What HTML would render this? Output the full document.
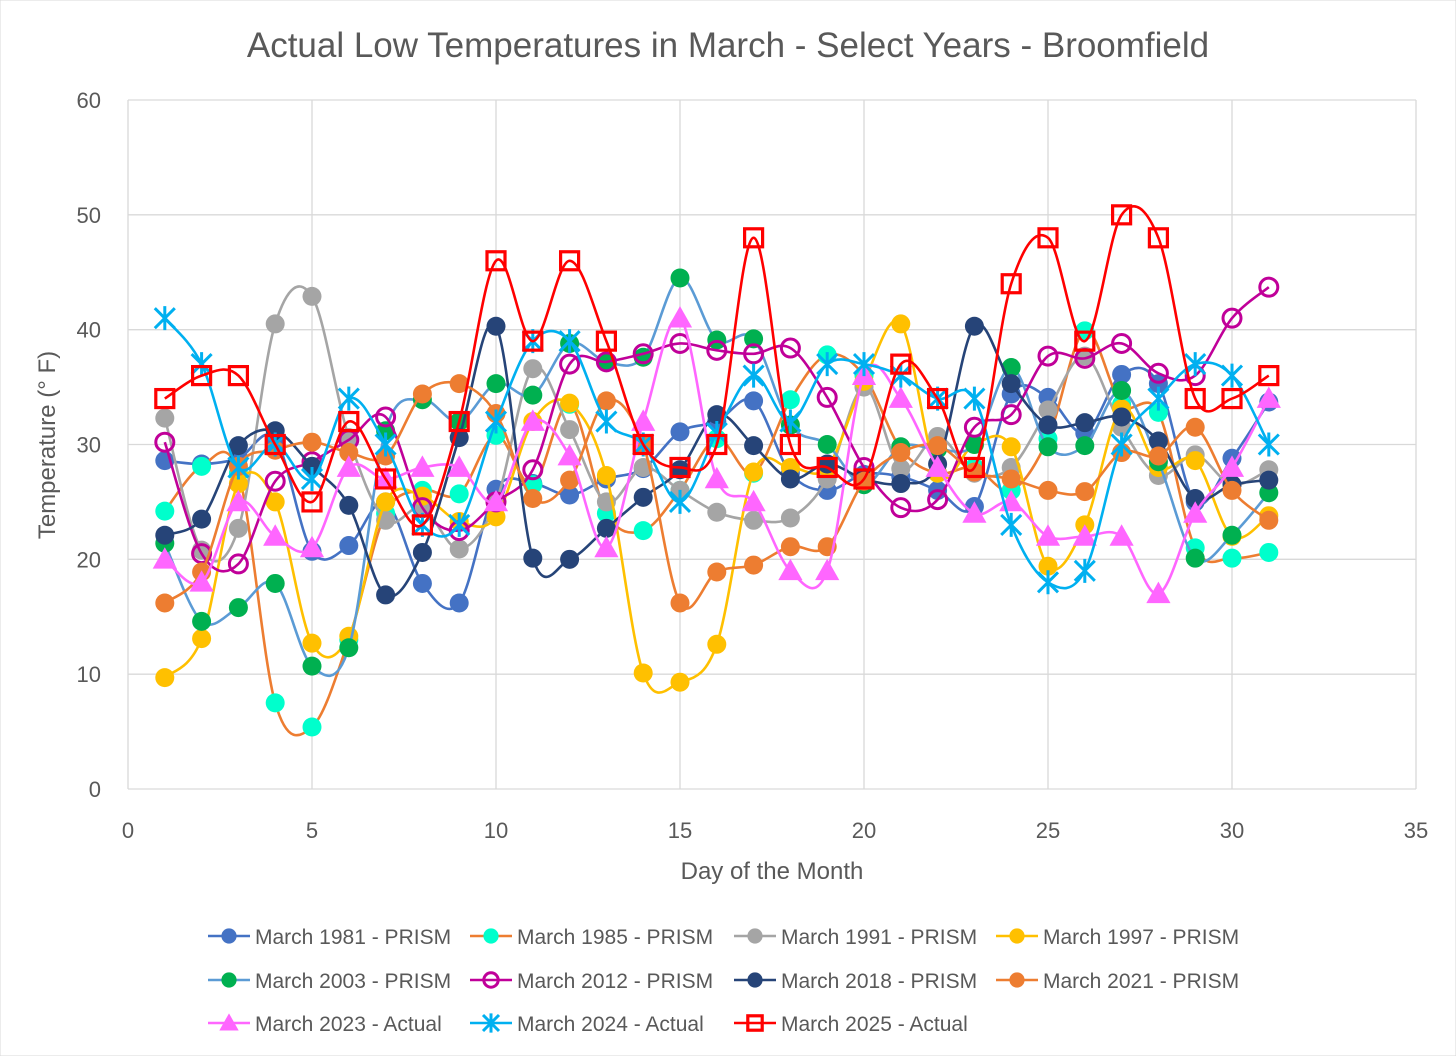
<!DOCTYPE html>
<html><head><meta charset="utf-8">
<style>
html,body{margin:0;padding:0;background:#fff;}
svg{display:block;font-family:"Liberation Sans",Calibri,sans-serif;}
</style></head>
<body>
<svg id="chart" width="1456" height="1056" viewBox="0 0 1456 1056" xmlns="http://www.w3.org/2000/svg">
<rect x="0" y="0" width="1456" height="1056" fill="#fff" stroke="#d9d9d9"/>
<text x="728" y="57" text-anchor="middle" font-size="35" fill="#595959">Actual Low Temperatures in March - Select Years - Broomfield</text>
<g id="grid"></g>
<g id="ticks"></g>
<text x="772" y="879" text-anchor="middle" font-size="24" fill="#595959">Day of the Month</text>
<text transform="translate(55,445) rotate(-90)" text-anchor="middle" font-size="24" fill="#595959">Temperature (° F)</text>
<g id="series"></g>
<g id="legend"></g>
</svg>
<script>
const days = Array.from({length:31},(_,i)=>i+1);
const s1981 = [28.6,28.3,28.8,30.5,20.7,21.2,25,17.9,16.2,26.1,26.6,25.6,27,27.9,31.1,32,33.8,27.5,26,27.4,27.2,26,24.6,34.4,34.1,31,36.1,35.3,25,28.8,33.7];
const s1985 = [24.2,28.1,27.5,7.5,5.4,13,24,26,25.7,30.8,26.5,33.5,24,22.5,26,30.5,27.5,33.9,37.8,36,29.6,27.5,28,26,30.5,39.9,33.5,32.8,21,20.1,20.6];
const s1991 = [32.3,20.8,22.7,40.5,42.9,30.6,23.4,24.5,20.9,25,36.6,31.3,25,28,26,24.1,23.4,23.6,27,35,27.9,30.7,27.5,28,33,37.7,31.5,27.3,29.1,26.5,27.8];
const s1997 = [9.7,13.1,26.6,25,12.7,13.3,25,25.5,23.3,23.7,32,33.6,27.3,10.1,9.3,12.6,27.6,28,28,35.5,40.5,27.5,30,29.8,19.4,23,33.1,28,28.6,22,23.8];
const s2003 = [21.4,14.6,15.8,17.9,10.7,12.3,31.2,33.9,32,35.3,34.3,38.8,37.2,37.6,44.5,39.1,39.2,31.7,30,26.5,29.8,29.6,30,36.7,29.8,29.9,34.7,28.5,20.1,22.1,25.8];
const s2012 = [30.2,20.5,19.6,26.8,28.5,30.4,32.4,24.5,22.5,25,27.8,37,37.2,37.9,38.8,38.2,37.9,38.4,34.1,28,24.5,25.2,31.5,32.6,37.7,37.5,38.8,36.2,36,41,43.7];
const s2018 = [22.1,23.5,29.9,31.2,28.1,24.7,16.9,20.6,30.6,40.3,20.1,20,22.7,25.4,27.8,32.6,29.9,27,28.3,27,26.6,28.3,40.3,35.3,31.7,31.9,32.4,30.3,25.3,26.5,26.9];
const s2021 = [16.2,18.9,28.1,29.5,30.2,29.3,29,34.4,35.3,32.7,25.3,26.9,33.8,30,16.2,18.9,19.5,21.1,21.1,26.8,29.3,29.9,27.6,27,26,25.9,29.3,29,31.5,26,23.4];
const s2023 = [20,18,25,22,21,28,27,28,28,25,32,29,21,32,41,27,25,19,19,36,34,28,24,25,22,22,22,17,24,28,34];
const s2024 = [41,37,28,30,27,34,30,23,23,32,39,39,32,30,25,31,36,32,37,37,36,34,34,23,18,19,30,34,37,36,30];
const s2025 = [34,36,36,30,25,32,27,23,32,46,39,46,39,30,28,30,48,30,28,27,37,34,28,44,48,39,50,48,34,34,36];
const xTicks = [0,5,10,15,20,25,30,35];
const yTicks = [0,10,20,30,40,50,60];
const seriesNames = ["March 1981 - PRISM","March 1985 - PRISM","March 1991 - PRISM","March 1997 - PRISM","March 2003 - PRISM","March 2012 - PRISM","March 2018 - PRISM","March 2021 - PRISM","March 2023 - Actual","March 2024 - Actual","March 2025 - Actual"];

const NS="http://www.w3.org/2000/svg";
const X0=128,X1=1416,Y0=789,Y1=100;
const xs=v=>X0+(v/35)*(X1-X0);
const ys=v=>Y0-(v/60)*(Y0-Y1);
function mk(tag,attrs,parent){const e=document.createElementNS(NS,tag);for(const k in attrs)e.setAttribute(k,attrs[k]);parent.appendChild(e);return e;}

const grid=document.getElementById('grid'),ticks=document.getElementById('ticks');
yTicks.forEach(t=>{
  const l=mk('line',{x1:X0,x2:X1,y1:ys(t),y2:ys(t),stroke:'#d9d9d9','stroke-width':1.3},grid);
  
  
  const tx=mk('text',{x:X0-27,y:ys(t)+8,'text-anchor':'end','font-size':22,fill:'#595959'},ticks);
  tx.textContent=t;
  
  
});
xTicks.forEach(t=>{
  const l=mk('line',{x1:xs(t),x2:xs(t),y1:Y1,y2:Y0,stroke:'#d9d9d9','stroke-width':1.3},grid);
  
  
  const tx=mk('text',{x:xs(t),y:Y0+49,'text-anchor':'middle','font-size':22,fill:'#595959'},ticks);
  tx.textContent=t;
  
  
});

const styles=[
 {c:'#4472c4',m:'dot',lc:'#4472c4'},
 {c:'#00ffcc',m:'dot',lc:'#ed7d31'},
 {c:'#a5a5a5',m:'dot',lc:'#a5a5a5'},
 {c:'#ffc000',m:'dot',lc:'#ffc000'},
 {c:'#00b050',m:'dot',lc:'#5b9bd5'},
 {c:'#c00099',m:'ring',lc:'#c00099'},
 {c:'#264478',m:'dot',lc:'#264478'},
 {c:'#ed7d31',m:'dot',lc:'#ed7d31'},
 {c:'#ff66ff',m:'tri',lc:'#ff66ff'},
 {c:'#00b0f0',m:'star',lc:'#00b0f0'},
 {c:'#ff0000',m:'sq',lc:'#ff0000'}
];
const allData=[s1981,s1985,s1991,s1997,s2003,s2012,s2018,s2021,s2023,s2024,s2025];

function smooth(pts){
  let d=`M${pts[0][0]},${pts[0][1]}`;
  for(let i=0;i<pts.length-1;i++){
    const p0=pts[i-1]||pts[i],p1=pts[i],p2=pts[i+1],p3=pts[i+2]||p2;
    const c1=[p1[0]+(p2[0]-p0[0])/6,p1[1]+(p2[1]-p0[1])/6];
    const c2=[p2[0]-(p3[0]-p1[0])/6,p2[1]-(p3[1]-p1[1])/6];
    d+=` C${c1[0]},${c1[1]} ${c2[0]},${c2[1]} ${p2[0]},${p2[1]}`;
  }
  return d;
}
function marker(g,m,c,x,y,s){
  s=s||1;
  if(m==='dot'){mk('circle',{cx:x,cy:y,r:9.5*s,fill:c},g);}
  else if(m==='ring'){mk('circle',{cx:x,cy:y,r:9*s,fill:'none',stroke:c,'stroke-width':3},g);}
  else if(m==='tri'){const h=11*s;mk('polygon',{points:`${x},${y-h*1.1} ${x+h*1.1},${y+h*0.85} ${x-h*1.1},${y+h*0.85}`,fill:c},g);}
  else if(m==='sq'){const h=9*s;mk('rect',{x:x-h,y:y-h,width:2*h,height:2*h,fill:'none',stroke:c,'stroke-width':3.2},g);}
  else if(m==='star'){const h=10*s;mk('path',{d:`M${x-h},${y-h}L${x+h},${y+h}M${x-h},${y+h}L${x+h},${y-h}M${x},${y-h*1.2}L${x},${y+h*1.2}`,stroke:c,'stroke-width':3,fill:'none'},g);}
}
const sg=document.getElementById('series');
allData.forEach((data,si)=>{
  const st=styles[si];
  const g=mk('g',{},sg);
  
  
  const pts=data.map((v,i)=>[xs(days[i]),ys(v)]);
  const p=mk('path',{d:smooth(pts),fill:'none',stroke:st.lc,'stroke-width':2.6},g);
  
  
  pts.forEach(pt=>marker(g,st.m,st.c,pt[0],pt[1]));
});

const lg=document.getElementById('legend');
const colX=[208,470,734,996];
const rowY=[936,980,1023];
seriesNames.forEach((n,i)=>{
  const st=styles[i];
  const x=colX[i%4],y=rowY[Math.floor(i/4)];
  const g=mk('g',{},lg);
  
  
  mk('line',{x1:x,x2:x+42,y1:y,y2:y,stroke:st.lc,'stroke-width':2.6},g);
  marker(g,st.m,st.c,x+21,y,0.8);
  const t=mk('text',{x:x+47,y:y+8,'font-size':21,fill:'#595959'},g);
  t.textContent=n;
});
</script>
</body></html>
